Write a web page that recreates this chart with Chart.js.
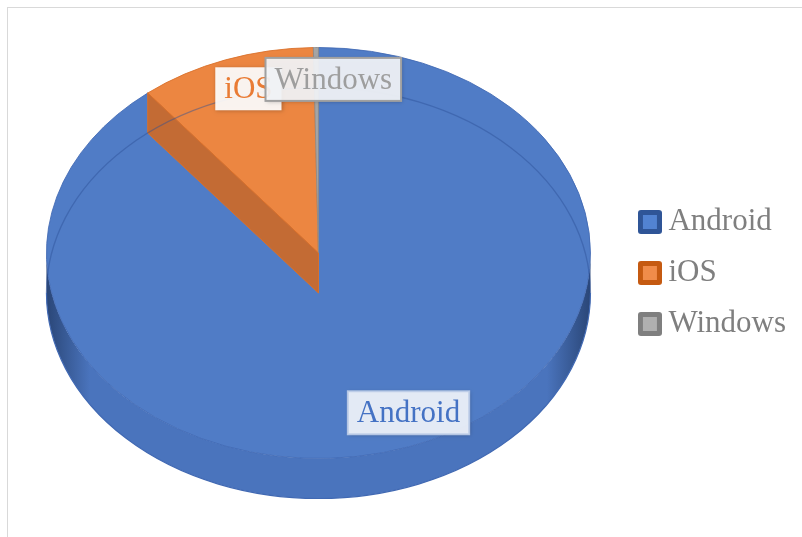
<!DOCTYPE html>
<html>
<head>
<meta charset="utf-8">
<script src="https://cdn.jsdelivr.net/npm/chart.js@4.4.1/dist/chart.umd.min.js"></script>
<style>
  html, body { margin: 0; padding: 0; background: #fff; overflow: hidden; }
  #wrap { position: relative; width: 802px; height: 537px; }
  #frame { position: absolute; left: 7px; top: 7px; width: 830px; height: 570px; border: 1px solid #d9d9d9; }
  canvas { position: absolute; left: 0; top: 0; }
</style>
</head>
<body>
<div id="wrap">
  <div id="frame"></div>
  <canvas id="chart" width="802" height="537"></canvas>
</div>
<script>
// data
const labels = ["Android", "iOS", "Windows"];
const shares = [89.2, 10.5, 0.3];

// colours
const faceColors = ["#507cc6", "#ec8641", "#a5a5a5"];
const edgeColors = ["#4169b3", "#d9702a", "#8c8c8c"];
const sideColors = ["#4a74bd", "#c86c30", "#8a8a8a"];
const sideDark = ["#2a4677", "#7a3d14", "#555555"];
const wallColors = ["#3f68b0", "#c36b34", "#8a8a8a"];
const legendOuter = ["#2f5597", "#c55a11", "#7f7f7f"];
const legendInner = ["#5283d2", "#f08c4a", "#b0b0b0"];
const labelText = ["#4472c4", "#e97b34", "#9e9e9e"];
const labelFill = ["rgba(236,241,250,0.95)", "rgba(255,255,255,0.92)", "rgba(244,246,250,0.92)"];
const labelBorder = ["rgba(190,205,232,0.9)", "rgba(255,255,255,0)", "#a0a0a0"];

const SERIF = "'Liberation Serif', 'Times New Roman', serif";
const TILT = 0.7555;   // vertical squash of the top face
const DEPTH = 40;      // thickness of the pie
const LABEL_AT = 0.84; // label distance, fraction of radius
const labelNudge = [[14, -3], [8, -2], [17, -1]];

function legendIcon(outer, inner) {
  const c = document.createElement("canvas");
  c.width = 24; c.height = 24;
  const g = c.getContext("2d");
  g.fillStyle = outer;
  g.beginPath();
  g.roundRect(0, 0, 24, 24, 3);
  g.fill();
  g.fillStyle = inner;
  g.fillRect(5, 5, 14, 14);
  return c;
}
const legendIcons = labels.map((l, i) => legendIcon(legendOuter[i], legendInner[i]));

function geom(chart) {
  const arcs = chart.getDatasetMeta(0).data;
  const a = arcs[0];
  const R = a.outerRadius;
  return { arcs, cx: a.x, cy: a.y, R, ry: R * TILT, top: a.y - DEPTH / 2, bot: a.y + DEPTH / 2 };
}

const pie3d = {
  id: "pie3d",
  beforeDatasetsDraw(chart) {
    const ctx = chart.ctx;
    const { arcs, cx, cy, R, ry, top, bot } = geom(chart);

    // side band (front half only)
    arcs.forEach((arc, i) => {
      for (let k = -1; k <= 1; k++) {
        const lo = Math.max(arc.startAngle, 2 * Math.PI * k);
        const hi = Math.min(arc.endAngle, 2 * Math.PI * k + Math.PI);
        if (hi <= lo) continue;
        const grad = ctx.createLinearGradient(cx - R, 0, cx + R, 0);
        grad.addColorStop(0, sideDark[i]);
        grad.addColorStop(0.08, sideColors[i]);
        grad.addColorStop(0.5, sideColors[i]);
        grad.addColorStop(0.92, sideColors[i]);
        grad.addColorStop(1, sideDark[i]);
        ctx.beginPath();
        ctx.ellipse(cx, top, R, ry, 0, lo, hi);
        ctx.ellipse(cx, bot, R, ry, 0, hi, lo, true);
        ctx.closePath();
        ctx.fillStyle = grad;
        ctx.fill();
        ctx.beginPath();
        ctx.ellipse(cx, bot, R, ry, 0, lo, hi);
        ctx.strokeStyle = edgeColors[i];
        ctx.lineWidth = 1.2;
        ctx.stroke();
      }
    });

    // top face: let Chart.js draw the arcs, squashed
    ctx.save();
    ctx.translate(cx, top);
    ctx.scale(1, TILT);
    ctx.translate(-cx, -cy);
  },
  afterDatasetsDraw(chart) {
    const ctx = chart.ctx;
    ctx.restore();
    const { arcs, cx, R, ry, top, bot } = geom(chart);

    // cut face of the smaller slice, seen through the face
    arcs.forEach((arc, i) => {
      if (i === 0 || arc.endAngle - arc.startAngle < 0.1) return;
      const a = arc.startAngle;
      const px = cx + Math.cos(a) * R, py = top + Math.sin(a) * ry;
      ctx.beginPath();
      ctx.moveTo(cx, top);
      ctx.lineTo(px, py);
      ctx.lineTo(px, py + DEPTH);
      ctx.lineTo(cx, bot);
      ctx.closePath();
      ctx.fillStyle = wallColors[i];
      ctx.fill();
      ctx.strokeStyle = edgeColors[i];
      ctx.lineWidth = 1;
      ctx.stroke();
    });

    // back bottom rim seen through
    ctx.beginPath();
    ctx.ellipse(cx, bot, R, ry, 0, Math.PI, 2 * Math.PI);
    ctx.strokeStyle = "rgba(45,80,150,0.45)";
    ctx.lineWidth = 1.3;
    ctx.stroke();

    // data labels
    ctx.font = "31px " + SERIF;
    ctx.textAlign = "center";
    ctx.textBaseline = "middle";
    arcs.forEach((arc, i) => {
      const mid = (arc.startAngle + arc.endAngle) / 2;
      const x = cx + Math.cos(mid) * R * LABEL_AT + labelNudge[i][0];
      const y = top + Math.sin(mid) * ry * LABEL_AT + labelNudge[i][1];
      const w = ctx.measureText(labels[i]).width + 18;
      const h = 43;
      ctx.save();
      ctx.shadowColor = "rgba(0,0,0,0.25)";
      ctx.shadowBlur = 4;
      ctx.shadowOffsetX = 1;
      ctx.shadowOffsetY = 1;
      ctx.fillStyle = labelFill[i];
      ctx.fillRect(x - w / 2, y - h / 2, w, h);
      ctx.restore();
      ctx.strokeStyle = labelBorder[i];
      ctx.lineWidth = 2;
      ctx.strokeRect(x - w / 2, y - h / 2, w, h);
      ctx.fillStyle = labelText[i];
      ctx.fillText(labels[i], x, y + 1);
    });
  }
};

new Chart(document.getElementById("chart"), {
  type: "pie",
  data: {
    labels: labels,
    datasets: [{
      data: shares,
      backgroundColor: faceColors,
      borderColor: edgeColors,
      borderWidth: 1,
      radius: 272,
      clip: false
    }]
  },
  options: {
    responsive: false,
    animation: false,
    events: [],
    devicePixelRatio: 1,
    layout: { padding: { left: 10, right: 6, top: 88, bottom: 79 } },
    plugins: {
      tooltip: { enabled: false },
      legend: {
        position: "right",
        labels: {
          usePointStyle: true,
          pointStyleWidth: 6,
          padding: 20,
          color: "#7f7f7f",
          font: { family: SERIF, size: 31 },
          generateLabels: () => labels.map((t, i) => ({
            text: t,
            pointStyle: legendIcons[i],
            fillStyle: faceColors[i],
            strokeStyle: legendOuter[i],
            lineWidth: 0,
            fontColor: "#7f7f7f",
            hidden: false,
            index: i
          }))
        }
      }
    }
  },
  plugins: [pie3d]
});
</script>
</body>
</html>
